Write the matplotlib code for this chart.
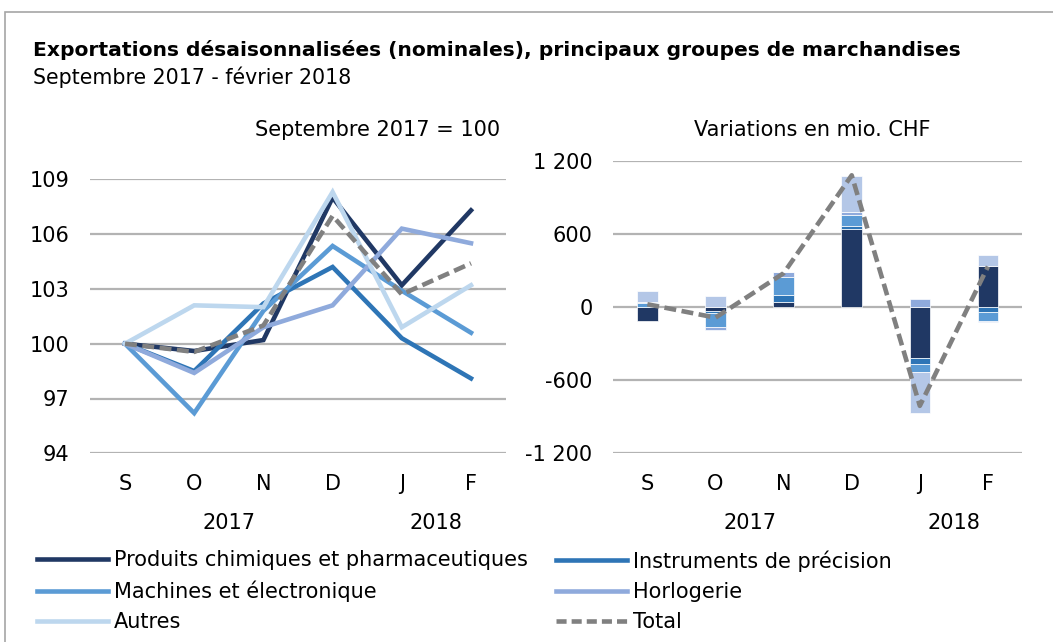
import matplotlib
matplotlib.use("Agg")
import numpy as np
from matplotlib import pyplot as plt
from matplotlib.lines import Line2D
from matplotlib.patches import Rectangle
from matplotlib.transforms import blended_transform_factory

plt.rcParams['font.family'] = ['DejaVu Sans']

# --- donnees ---
mois = ['S', 'O', 'N', 'D', 'J', 'F']
annees = ['2017', '2018']
groupes = ['Produits chimiques et pharmaceutiques', 'Instruments de précision',
           'Machines et électronique', 'Horlogerie', 'Autres']

# indice, septembre 2017 = 100
idx_chimie = [100, 99.6, 100.2, 108.0, 103.2, 107.3]
idx_instr = [100, 98.5, 102.2, 104.2, 100.3, 98.1]
idx_mach = [100, 96.2, 101.8, 105.35, 102.9, 100.6]
idx_horl = [100, 98.4, 100.9, 102.1, 106.3, 105.5]
idx_autres = [100, 102.1, 102.0, 108.3, 100.9, 103.2]
idx_total = [100, 99.55, 101.0, 107.0, 102.7, 104.4]

# variations en mio. CHF
var_chimie = [-113, -30, 47, 644, -419, 337]
var_instr = [5, -16, 55, 27, -47, -36]
var_mach = [30, -115, 150, 88, -63, -74]
var_horl = [11, -27, 41, 22, 68, -14]
var_autres = [85, 90, 0, 296, -342, 96]
var_total = [25, -85, 280, 1085, -810, 335]

couleurs = ['#203864', '#2e75b6', '#5b9bd5', '#8faadc', '#bdd7ee']
couleurs_barres = ['#203864', '#2e75b6', '#5b9bd5', '#8faadc', '#b4c7e7']
gris = '#808080'
grille = '#b3b3b3'

W, H = 1053, 642
fig = plt.figure(figsize=(W / 100, H / 100), dpi=100)

def fx(px):
    return px / W

def fy(py):
    return 1 - py / H

# cadre
fig.patches.append(Rectangle((fx(5), fy(H + 5)), 1.2, fy(12) - fy(H + 5),
                             transform=fig.transFigure, fill=False,
                             edgecolor='#a6a6a6', lw=1.2))

fig.text(fx(33), fy(50), 'Exportations désaisonnalisées (nominales), principaux groupes de marchandises',
         fontsize=14.6, fontweight='bold', va='center', ha='left')
fig.text(fx(33), fy(77), 'Septembre 2017 - février 2018', fontsize=14.8, va='center', ha='left')

x = np.arange(len(mois))

# --- graphique de gauche ---
ax1 = fig.add_axes([fx(90.4), fy(453.3), fx(505.6 - 90.4), fy(179.3) - fy(453.3)])
series = [idx_chimie, idx_instr, idx_mach, idx_horl, idx_autres]
for vals, c in zip(series, couleurs):
    ax1.plot(x, vals, color=c, lw=3.3, solid_joinstyle='miter')
ax1.plot(x, idx_total, color=gris, lw=3.3, dashes=(2.6, 1.2))
ax1.set_xlim(-0.5, 5.5)
ax1.set_ylim(94, 109)
ax1.set_yticks(np.arange(94, 110, 3))
ax1.set_yticklabels([str(v) for v in range(94, 110, 3)])

# --- graphique de droite ---
ax2 = fig.add_axes([fx(613.3), fy(453.3), fx(1022 - 613.3), fy(161.3) - fy(453.3)])
barres = [var_chimie, var_instr, var_mach, var_horl, var_autres]
bas_pos = np.zeros(len(mois))
bas_neg = np.zeros(len(mois))
for vals, c in zip(barres, couleurs_barres):
    vals = np.array(vals, dtype=float)
    bas = np.where(vals >= 0, bas_pos, bas_neg)
    ax2.bar(x, vals, 0.30, bottom=bas, color=c, edgecolor='white', linewidth=0.5, zorder=2)
    bas_pos = bas_pos + np.where(vals >= 0, vals, 0)
    bas_neg = bas_neg + np.where(vals < 0, vals, 0)
ax2.plot(x, var_total, color=gris, lw=3.3, dashes=(2.6, 1.2), zorder=3)
ax2.set_xlim(-0.5, 5.5)
ax2.set_ylim(-1200, 1200)
ax2.set_yticks([-1200, -600, 0, 600, 1200])
ax2.set_yticklabels(['-1 200', '-600', '0', '600', '1 200'])

for ax in (ax1, ax2):
    for s in ax.spines.values():
        s.set_visible(False)
    ax.yaxis.grid(True, color=grille, lw=1.6)
    ax.set_axisbelow(True)
    ax.tick_params(axis='both', length=0, labelsize=15)
    ax.tick_params(axis='y', pad=15)
    ax.tick_params(axis='x', pad=15)
    ax.set_xticks(x)
    ax.set_xticklabels(mois)
    tr = blended_transform_factory(ax.transData, fig.transFigure)
    ax.text(1.5, fy(523), annees[0], transform=tr, ha='center', va='center', fontsize=15)
    ax.text(4.5, fy(523), annees[1], transform=tr, ha='center', va='center', fontsize=15)

fig.text(fx(500), fy(130), 'Septembre 2017 = 100', fontsize=15, ha='right', va='center')
fig.text(fx(812), fy(130), 'Variations en mio. CHF', fontsize=15, ha='center', va='center')

# --- legende ---
poignees = [Line2D([], [], color=c, lw=3.3) for c in couleurs]
poignees.append(Line2D([], [], color=gris, lw=3.3, dashes=(2.2, 1.1)))
labels = groupes + ['Total']
opts = dict(frameon=False, loc='upper left', borderpad=0, borderaxespad=0,
            handlelength=3.4, handletextpad=0.3, labelspacing=0.5, fontsize=15)
fig.legend([poignees[i] for i in (0, 2, 4)], [labels[i] for i in (0, 2, 4)],
           bbox_to_anchor=(fx(37), fy(550)), **opts)
fig.legend([poignees[i] for i in (1, 3, 5)], [labels[i] for i in (1, 3, 5)],
           bbox_to_anchor=(fx(556), fy(550)), **opts)

plt.savefig('out.png', dpi=100)
